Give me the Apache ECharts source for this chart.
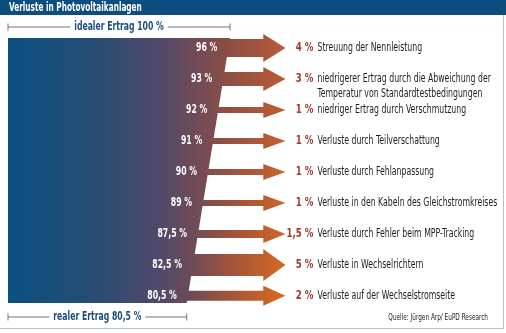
<!DOCTYPE html>
<html><head><meta charset="utf-8">
<script src="https://cdn.jsdelivr.net/npm/echarts@6/dist/echarts.min.js"></script>
<style>html,body{margin:0;padding:0;background:#fff}#c{width:506px;height:333px}</style>
</head><body><div id="c"></div>
<script>
const titleText = 'Verluste in Photovoltaikanlagen';
const idealLabel = 'idealer Ertrag 100 %';
const realLabel = 'realer Ertrag 80,5 %';
const sourceLabel = 'Quelle: Jürgen Arp/ EuPD Research';
const idealValue = 100;
const realValue = 80.5;
const lossCategories = [
  'Streuung der Nennleistung',
  'niedrigerer Ertrag durch die Abweichung der\nTemperatur von Standardtestbedingungen',
  'niedriger Ertrag durch Verschmutzung',
  'Verluste durch Teilverschattung',
  'Verluste durch Fehlanpassung',
  'Verluste in den Kabeln des Gleichstromkreises',
  'Verluste durch Fehler beim MPP-Tracking',
  'Verluste in Wechselrichtern',
  'Verluste auf der Wechselstromseite'
];
const lossValues = [4, 3, 1, 1, 1, 1, 1.5, 5, 2];
const remainingValues = [96, 93, 92, 91, 90, 89, 87.5, 82.5, 80.5];

const FONT = '"DejaVu Sans Condensed", "DejaVu Sans", sans-serif';
const fmt = v => String(v).replace('.', ',');

function hex(c){return [1,3,5].map(i=>parseInt(c.substr(i,2),16));}
function mix(a,b,t){const A=hex(a),B=hex(b);return 'rgb('+A.map((v,i)=>Math.round(v+(B[i]-v)*t)).join(',')+')';}
function grad(x0,x1,t){
  return {type:'linear',x:x0,y:0,x2:x1,y2:0,global:true,colorStops:[
    {offset:0,color:'#0a5083'},
    {offset:0.3,color:'#264c73'},
    {offset:0.55,color:'#51496a'},
    {offset:0.66,color:'#6c4b58'},
    {offset:0.8,color:mix('#8c4e45','#a3553a',t)},
    {offset:1,color:mix('#b85a37','#dc6a1e',t)}
  ]};
}

const chart = echarts.init(document.getElementById('c'));
const n = remainingValues.length;

function geom(params, api){
  const cs = params.coordSys;
  const top = cs.y, bottom = cs.y + cs.height;
  const x0 = api.coord([0, 0])[0];
  const xi = api.coord([idealValue, 0])[0];
  const xr = api.coord([realValue, 0])[0];
  const xTip = api.coord([125, 0])[0];
  return {top, bottom, x0, xi, xr, xTip};
}

function dimLine(x0, x1, y, text){
  return [
    {type:'line', shape:{x1:x0,y1:y,x2:x1,y2:y}, style:{stroke:'#6f7780',lineWidth:1}},
    {type:'line', shape:{x1:x0,y1:y-3.5,x2:x0,y2:y+3.5}, style:{stroke:'#6f7780',lineWidth:1}},
    {type:'line', shape:{x1:x1,y1:y-3.5,x2:x1,y2:y+3.5}, style:{stroke:'#6f7780',lineWidth:1}},
    {type:'text', x:(x0+x1)/2, y:y, scaleX:0.66, style:{text:text, align:'center', verticalAlign:'middle',
      font:'bold 13px '+FONT, fill:'#1d4d7c', backgroundColor:'#fff', padding:[0,6]}}
  ];
}

const option = {
  animation:false,
  grid:{left:8, top:38, width:222, height:265},
  xAxis:{type:'value', min:0, max:100, show:false},
  yAxis:{type:'value', inverse:true, min:-0.32, max:8.23, show:false},
  graphic:[
    {type:'rect', shape:{x:0,y:0,width:506,height:15}, style:{fill:'#0d4e7f'}},
    {type:'text', x:9, y:8, scaleX:0.68, style:{text:titleText, font:'bold 12px '+FONT, fill:'#fff', verticalAlign:'middle'}},
    {type:'line', shape:{x1:503.5,y1:15,x2:503.5,y2:328}, style:{stroke:'#b8c1c9',lineWidth:1}},
    {type:'line', shape:{x1:0,y1:328.5,x2:504,y2:328.5}, style:{stroke:'#aec4d4',lineWidth:1}},
    {type:'text', x:488, y:318, scaleX:0.8, style:{text:sourceLabel, font:'8px '+FONT, fill:'#222', align:'right', verticalAlign:'middle'}}
  ],
  series:[
    {
      type:'custom', z:2,
      data:[[idealValue, realValue]],
      renderItem:function(params, api){
        const g = geom(params, api);
        const xi = api.coord([api.value(0),0])[0], xr = api.coord([api.value(1),0])[0];
        return {type:'group', children:[
          {type:'polygon', shape:{points:[[g.x0,g.top],[xi,g.top],[xr,g.bottom],[g.x0,g.bottom]]},
            style:{fill:grad(g.x0,g.xTip,0)}},
          ...dimLine(g.x0, xi, g.top-11, idealLabel),
          ...dimLine(g.x0, xr, g.bottom+14, realLabel)
        ]};
      }
    },
    {
      type:'custom', z:3,
      data:remainingValues.map((v,i)=>[i, v, lossValues[i]]),
      renderItem:function(params, api){
        const g = geom(params, api);
        const idx = api.value(0), rem = api.value(1), loss = api.value(2);
        const cy = api.coord([0, idx])[1];
        const edgeX = g.xi + (g.xr - g.xi) * (cy - g.top) / (g.bottom - g.top);
        const t = 2 + 4 * loss, hh = t + 10;
        const headX = api.coord([115, idx])[0];
        const tipX = api.coord([125, idx])[0];
        const f = idx / (n - 1);
        return {type:'group', children:[
          {type:'polygon', shape:{points:[
            [edgeX-2, cy-t/2],[headX, cy-t/2],[headX, cy-hh/2],[tipX, cy],
            [headX, cy+hh/2],[headX, cy+t/2],[edgeX-2, cy+t/2]]},
            style:{fill:grad(g.x0, g.xTip, f)}},
          {type:'text', x:edgeX-11, y:cy, scaleX:0.75, style:{text:fmt(rem)+' %', align:'right', verticalAlign:'middle',
            font:'bold 11.5px '+FONT, fill:'#fff'}},
          {type:'text', x:tipX+28, y:cy, scaleX:0.8, style:{text:fmt(loss)+' %', align:'right', verticalAlign:'middle',
            font:'bold 12px '+FONT, fill:'#a23a2c'}},
          {type:'text', x:tipX+32, y:cy-7.5, scaleX:0.75, style:{text:lossCategories[idx], align:'left', verticalAlign:'top',
            font:'11.5px '+FONT, lineHeight:15, fill:'#1e1e1e'}}
        ]};
      }
    }
  ]
};
chart.setOption(option);
</script></body></html>
